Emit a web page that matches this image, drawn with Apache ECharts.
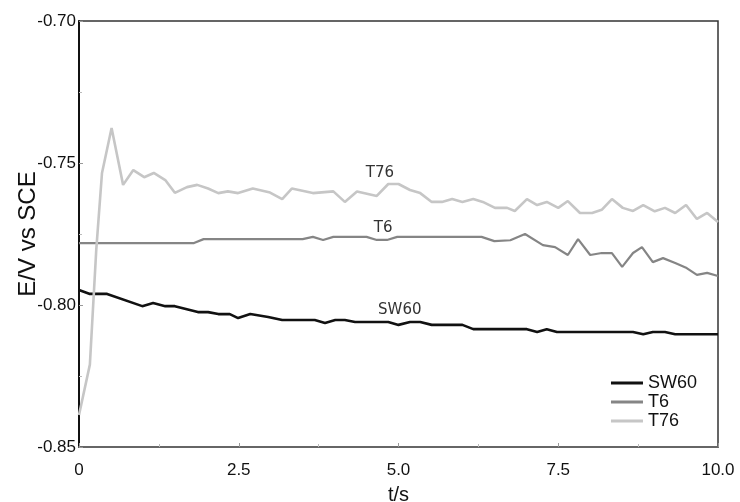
<!DOCTYPE html>
<html>
<head>
<meta charset="utf-8">
<script src="https://cdn.jsdelivr.net/npm/echarts@6/dist/echarts.min.js"></script>
<style>html,body{margin:0;padding:0;background:#fff}#c{width:740px;height:502px}</style>
</head>
<body>
<div id="c"></div>
<script>
const seriesNames = ['SW60', 'T6', 'T76'];
const xTicks = [0, 2.5, 5.0, 7.5, 10.0];
const yTicks = [-0.85, -0.80, -0.75, -0.70];

const tSW60 = [0, 0.17, 0.44, 0.99, 1.16, 1.35, 1.5, 1.86, 2.02, 2.18, 2.36, 2.49, 2.68, 2.96, 3.18, 3.69, 3.85, 4.01, 4.16, 4.32, 4.84, 5.0, 5.18, 5.34, 5.52, 6.0, 6.17, 7.01, 7.17, 7.32, 7.48, 8.67, 8.83, 8.98, 9.17, 9.33, 10.0];
const vSW60 = [-0.7947, -0.7961, -0.7961, -0.8004, -0.7993, -0.8004, -0.8004, -0.8025, -0.8025, -0.8032, -0.8032, -0.8046, -0.8032, -0.8042, -0.8053, -0.8053, -0.8063, -0.8053, -0.8053, -0.806, -0.806, -0.807, -0.806, -0.806, -0.807, -0.807, -0.8085, -0.8085, -0.8095, -0.8085, -0.8095, -0.8095, -0.8103, -0.8095, -0.8095, -0.8103, -0.8103];

const tT6 = [0, 1.8, 1.95, 3.5, 3.66, 3.82, 3.98, 4.5, 4.66, 4.82, 4.98, 6.3, 6.5, 6.75, 6.98, 7.26, 7.45, 7.65, 7.81, 8.0, 8.18, 8.34, 8.5, 8.67, 8.81, 8.98, 9.14, 9.33, 9.51, 9.67, 9.83, 10.0];
const vT6 = [-0.7782, -0.7782, -0.7768, -0.7768, -0.776, -0.7771, -0.776, -0.776, -0.7771, -0.7771, -0.776, -0.776, -0.7775, -0.7772, -0.775, -0.7789, -0.7796, -0.7824, -0.7768, -0.7824, -0.7817, -0.7817, -0.7866, -0.7817, -0.7796, -0.7849, -0.7835, -0.7852, -0.787, -0.7894, -0.7887, -0.7898];

const tT76 = [0, 0.17, 0.27, 0.36, 0.51, 0.69, 0.85, 1.02, 1.17, 1.35, 1.5, 1.69, 1.85, 2.02, 2.18, 2.33, 2.49, 2.72, 2.99, 3.18, 3.33, 3.66, 3.98, 4.16, 4.35, 4.66, 4.84, 5.0, 5.18, 5.34, 5.52, 5.68, 5.84, 6.0, 6.17, 6.32, 6.51, 6.7, 6.82, 7.01, 7.17, 7.32, 7.5, 7.65, 7.84, 8.03, 8.18, 8.34, 8.51, 8.67, 8.83, 9.01, 9.17, 9.33, 9.5, 9.67, 9.83, 10.0];
const vT76 = [-0.8387, -0.821, -0.7806, -0.7535, -0.7377, -0.7577, -0.7525, -0.755, -0.7535, -0.756, -0.7605, -0.7585, -0.7577, -0.759, -0.7606, -0.760, -0.7606, -0.759, -0.7604, -0.7627, -0.759, -0.7606, -0.760, -0.7637, -0.760, -0.7616, -0.7574, -0.7574, -0.7595, -0.7606, -0.7637, -0.7637, -0.7627, -0.7637, -0.7627, -0.7637, -0.7658, -0.7658, -0.7669, -0.7627, -0.7648, -0.7637, -0.7658, -0.7634, -0.7676, -0.7676, -0.7665, -0.7627, -0.7658, -0.7669, -0.7648, -0.767, -0.7658, -0.7676, -0.7648, -0.7697, -0.7676, -0.7708];

// annotation labels [t, value]
const labelPos = { SW60: [5.02, -0.8018], T6: [4.76, -0.7729], T76: [4.71, -0.7535] };

const colors = { SW60: '#111111', T6: '#858585', T76: '#c6c6c6' };
const widths = { SW60: 2.6, T6: 2.2, T76: 2.6 };
const tArr = { SW60: tSW60, T6: tT6, T76: tT76 };
const vArr = { SW60: vSW60, T6: vT6, T76: vT76 };

const chart = echarts.init(document.getElementById('c'), null, { renderer: 'canvas' });
const axisFont = 'Liberation Sans, Arial, sans-serif';

chart.setOption({
  animation: false,
  backgroundColor: '#ffffff',
  grid: { left: 79, right: 22, top: 21, bottom: 55, containLabel: false, outerBoundsMode: 'none',
    show: true, borderColor: '#333', borderWidth: 1.5, backgroundColor: 'transparent' },
  legend: {
    data: seriesNames.map(n => ({ name: n, icon: 'rect' })),
    orient: 'vertical',
    right: 38,
    top: 369,
    itemWidth: 32,
    itemHeight: 3,
    itemGap: 1,
    textStyle: { fontFamily: axisFont, fontSize: 18, color: '#111', lineHeight: 17, padding: [0, 0, 0, 0] }
  },
  xAxis: {
    type: 'value', min: xTicks[0], max: xTicks[xTicks.length - 1], interval: 2.5,
    name: 't/s', nameLocation: 'middle', nameGap: 38, nameMoveOverlap: false,
    nameTextStyle: { fontFamily: axisFont, fontSize: 20, color: '#111' },
    axisLine: { show: true, lineStyle: { color: '#666', width: 2 } },
    axisTick: { show: true, inside: true, length: 4, lineStyle: { color: '#999' } },
    minorTick: { show: true, splitNumber: 2, length: 3, lineStyle: { color: '#bbb' } },
    splitLine: { show: false },
    axisLabel: { fontFamily: axisFont, fontSize: 17, color: '#111', margin: 15,
      formatter: v => (v === 0 ? '0' : v.toFixed(1)) }
  },
  yAxis: {
    type: 'value', min: yTicks[0], max: yTicks[yTicks.length - 1], interval: 0.05,
    name: 'E/V vs SCE', nameLocation: 'middle', nameGap: 39, nameMoveOverlap: false,
    nameTextStyle: { fontFamily: axisFont, fontSize: 24, color: '#111' },
    axisLine: { show: true, lineStyle: { color: '#111', width: 2 } },
    axisTick: { show: true, inside: true, length: 4, lineStyle: { color: '#999' } },
    minorTick: { show: true, splitNumber: 2, length: 3, lineStyle: { color: '#bbb' } },
    splitLine: { show: false },
    axisLabel: { fontFamily: axisFont, fontSize: 17, color: '#111', margin: 3,
      formatter: v => v.toFixed(2) }
  },
  series: seriesNames.map(n => ({
    name: n,
    type: 'line',
    symbol: 'none',
    data: tArr[n].map((t, i) => [t, vArr[n][i]]),
    lineStyle: { color: colors[n], width: widths[n] },
    itemStyle: { color: colors[n] },
    markPoint: {
      symbol: 'circle', symbolSize: 0,
      label: { show: true, position: 'inside', formatter: n, fontFamily: 'DejaVu Sans, sans-serif', fontSize: 15, color: '#333' },
      data: [{ coord: labelPos[n] }]
    }
  }))
});
</script>
</body>
</html>
